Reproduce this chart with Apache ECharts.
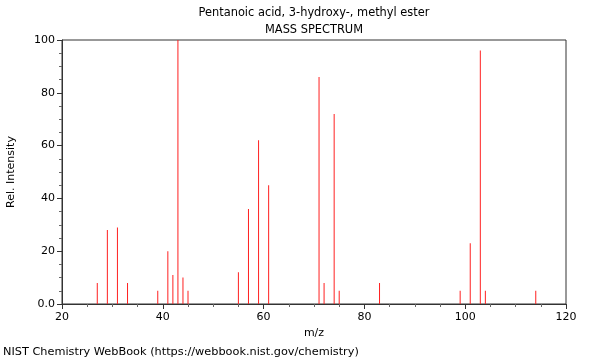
<!DOCTYPE html>
<html><head><meta charset="utf-8">
<script src="https://cdn.jsdelivr.net/npm/echarts@6/dist/echarts.min.js"></script>
<style>html,body{margin:0;padding:0;background:#fff}#c{width:600px;height:360px}</style>
</head><body><div id="c"></div>
<script>
const titleText = "Pentanoic acid, 3-hydroxy-, methyl ester";
const subtitleText = "MASS SPECTRUM";
const footerText = "NIST Chemistry WebBook (https://webbook.nist.gov/chemistry)";
const mz = [27, 29, 31, 33, 39, 41, 42, 43, 44, 45, 55, 57, 59, 61, 71, 72, 74, 75, 83, 99, 101, 103, 104, 114];
const intensity = [8, 28, 29, 8, 5, 20, 11, 100, 10, 5, 12, 36, 62, 45, 86, 8, 72, 5, 8, 5, 23, 96, 5, 5];
const xTicks = [20, 40, 60, 80, 100, 120];
const yTicks = [0, 20, 40, 60, 80, 100];

const font = "DejaVu Sans";
const chart = echarts.init(document.getElementById('c'), null, {renderer: 'canvas'});
chart.setOption({
  animation: false,
  color: ['#ff0000'],
  textStyle: {fontFamily: font},
  graphic: [
    {type: 'text', x: 314, y: 8, style: {text: titleText, font: '11.4px "DejaVu Sans"', fill: '#000', align: 'center'}},
    {type: 'text', x: 314, y: 25, style: {text: subtitleText, font: '11.4px "DejaVu Sans"', fill: '#000', align: 'center'}},
    {type: 'text', left: 3, top: 347, style: {text: footerText, font: '11.3px "DejaVu Sans"', fill: '#000'}}
  ],
  grid: {left: 62, right: 34, top: 40, bottom: 56, show: true, borderColor: '#333', borderWidth: 1,
    backgroundColor: 'transparent', containLabel: false, outerBoundsMode: 'none'},
  xAxis: {
    type: 'value', min: xTicks[0], max: xTicks[xTicks.length - 1], interval: 20,
    name: 'm/z', nameLocation: 'middle', nameGap: 24,
    nameTextStyle: {fontFamily: font, fontSize: 11, color: '#000'},
    axisLine: {onZero: false, lineStyle: {color: '#333'}},
    axisTick: {show: true, length: 5, lineStyle: {color: '#333'}},
    minorTick: {show: true, splitNumber: 4, length: 3, lineStyle: {color: '#666'}},
    axisLabel: {fontFamily: font, fontSize: 11, color: '#000', margin: 8},
    splitLine: {show: false}
  },
  yAxis: {
    type: 'value', min: yTicks[0], max: yTicks[yTicks.length - 1], interval: 20,
    name: 'Rel. Intensity', nameLocation: 'middle', nameGap: 45, nameRotate: 90,
    nameTextStyle: {fontFamily: font, fontSize: 11, color: '#000'},
    axisLine: {show: true, lineStyle: {color: '#333'}},
    axisTick: {show: true, length: 5, lineStyle: {color: '#333'}},
    minorTick: {show: true, splitNumber: 4, length: 3, lineStyle: {color: '#666'}},
    axisLabel: {fontFamily: font, fontSize: 11, color: '#000', margin: 7,
      formatter: v => v === 0 ? '0.0' : String(v)},
    splitLine: {show: false}
  },
  series: [{
    type: 'bar',
    barWidth: 1,
    itemStyle: {color: '#ff2020'},
    emphasis: {disabled: true},
    data: mz.map((m, i) => [m, intensity[i]])
  }]
});
</script></body></html>
